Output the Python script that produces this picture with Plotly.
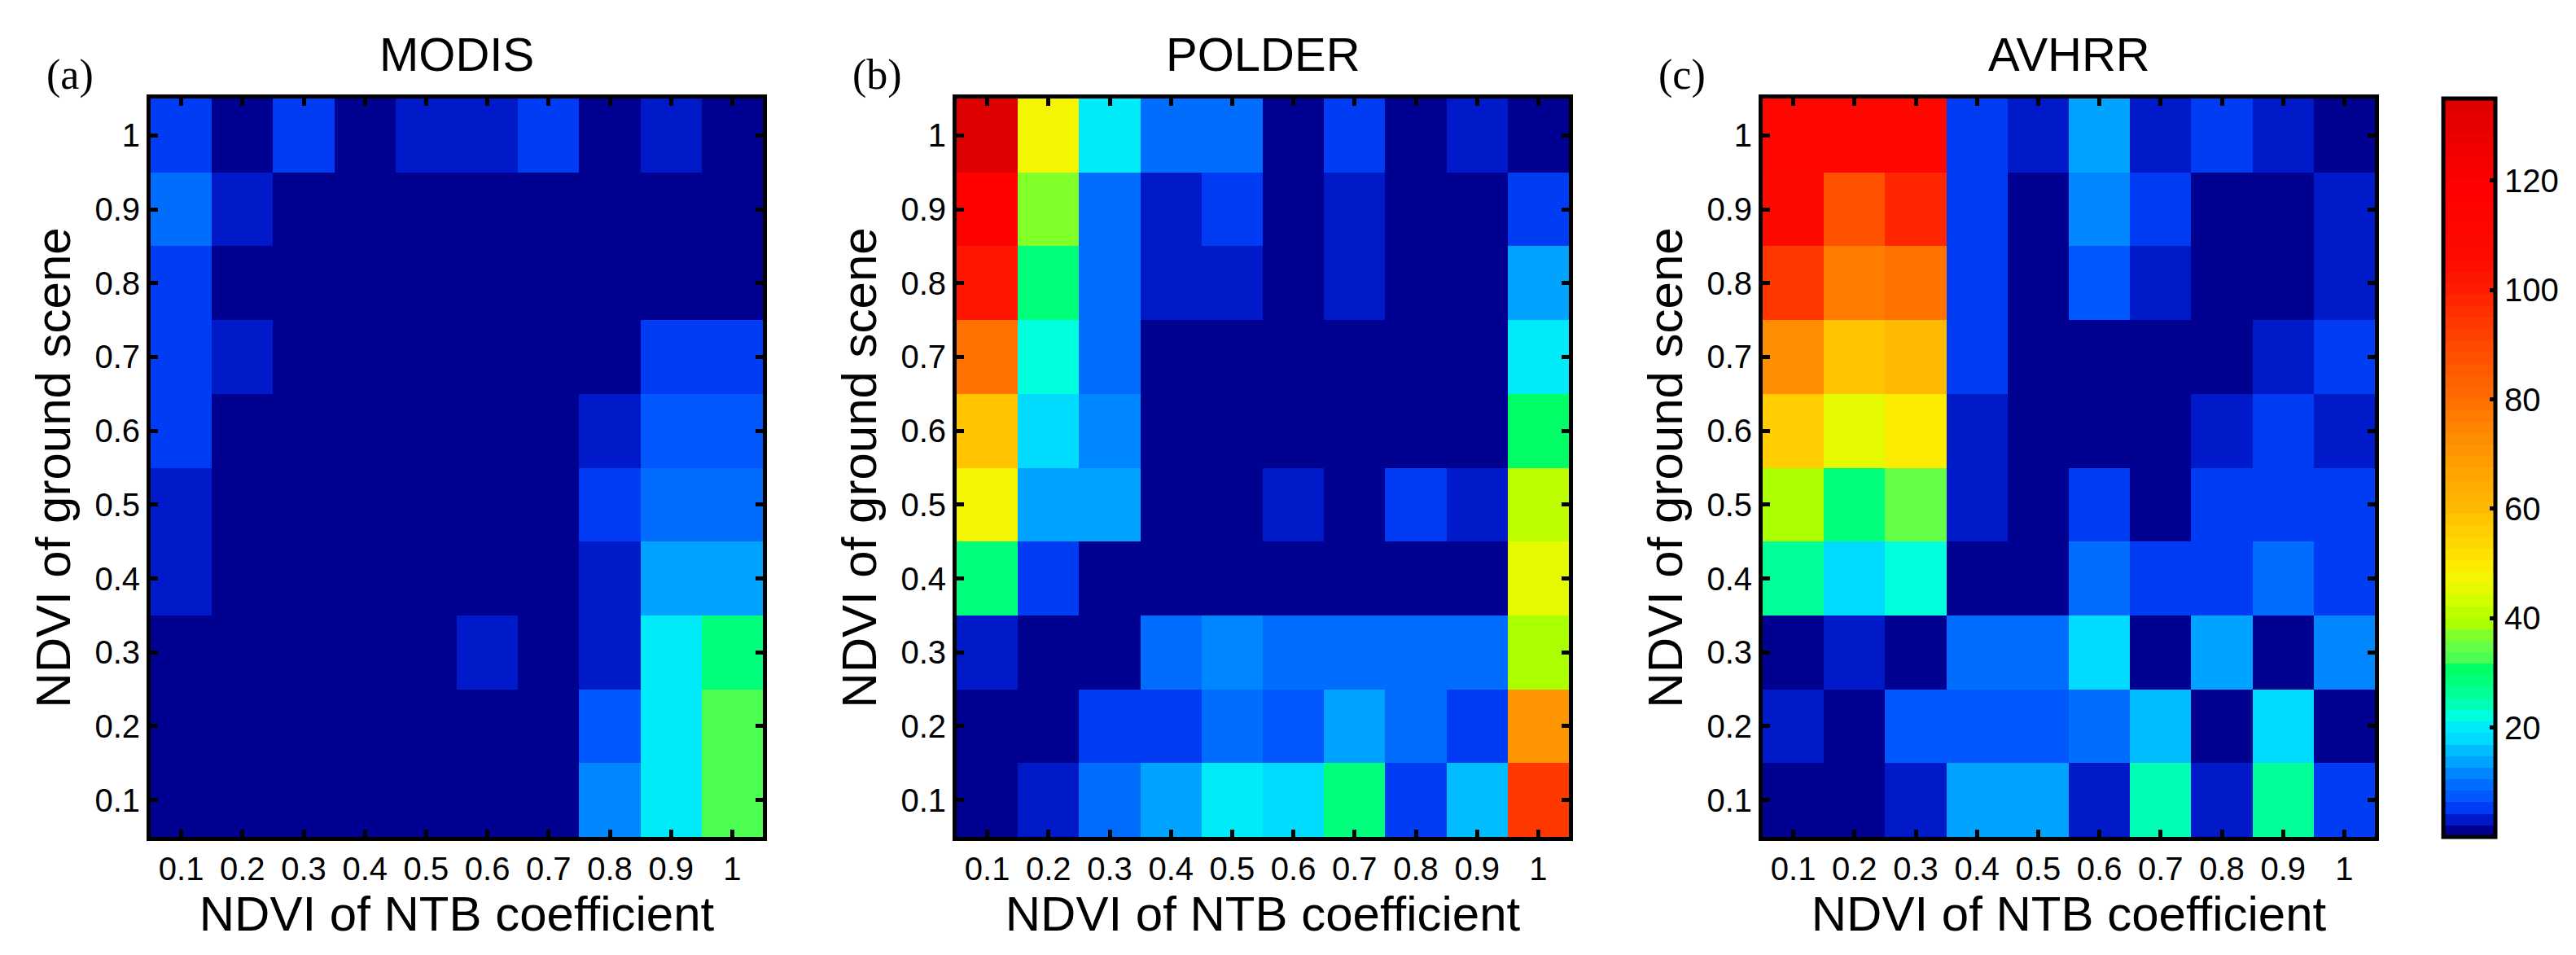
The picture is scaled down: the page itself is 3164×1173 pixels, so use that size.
import plotly.graph_objects as go

# axis categories
ntb_coef = [0.1, 0.2, 0.3, 0.4, 0.5, 0.6, 0.7, 0.8, 0.9, 1.0]
ground_ndvi = [1.0, 0.9, 0.8, 0.7, 0.6, 0.5, 0.4, 0.3, 0.2, 0.1]   # top row first
tick_labels = ["0.1", "0.2", "0.3", "0.4", "0.5", "0.6", "0.7", "0.8", "0.9", "1"]

# counts, one row per ground NDVI (1 at top)
modis = [
    [5.5, 0, 5.5, 0, 4, 4, 5.5, 0, 4, 0],
    [8.5, 4, 0, 0, 0, 0, 0, 0, 0, 0],
    [6, 0, 0, 0, 0, 0, 0, 0, 0, 0],
    [6, 3.5, 0, 0, 0, 0, 0, 0, 5.5, 5.5],
    [6, 0, 0, 0, 0, 0, 0, 3.5, 8, 8],
    [3.5, 0, 0, 0, 0, 0, 0, 6, 10, 10],
    [3.5, 0, 0, 0, 0, 0, 0, 3.5, 14, 14],
    [0, 0, 0, 0, 0, 3.5, 0, 3.5, 21, 28],
    [0, 0, 0, 0, 0, 0, 0, 7.5, 21, 33.5],
    [0, 0, 0, 0, 0, 0, 0, 12.5, 21, 33.5],
]
polder = [
    [134, 48, 20.5, 9.5, 9.5, 0, 5.5, 0, 3.5, 0],
    [118, 36, 10.5, 3.5, 5.5, 0, 3.5, 0, 0, 5.5],
    [103, 29.5, 10.5, 3.5, 3.5, 0, 3.5, 0, 0, 14],
    [79, 23, 8.5, 0, 0, 0, 0, 0, 0, 21],
    [59, 18, 12.5, 0, 0, 0, 0, 0, 0, 30.5],
    [48, 14, 14, 0, 0, 3.5, 0, 5.5, 3.5, 42],
    [28.5, 5.5, 0, 0, 0, 0, 0, 0, 0, 45],
    [3.5, 0, 0, 10.5, 12, 8.5, 8.5, 8.5, 8.5, 39.5],
    [0, 0, 5.5, 5.5, 9.5, 7.5, 14, 9.5, 6, 70],
    [0, 3.5, 10.5, 14, 20.5, 18, 27.5, 5.5, 16.5, 93],
]
avhrr = [
    [110, 110, 110, 6, 3.5, 14, 3.5, 6, 3.5, 0],
    [108, 88, 98, 6, 0, 11.5, 6, 0, 0, 3.5],
    [93, 76, 80, 6, 0, 7, 3.5, 0, 0, 3.5],
    [73, 57, 61, 6, 0, 0, 0, 0, 3.5, 6],
    [56, 45.5, 49, 3.5, 0, 0, 0, 3.5, 6, 3.5],
    [38, 29.5, 35.5, 3.5, 0, 6, 0, 6, 6, 6],
    [25.5, 18, 23, 0, 0, 8.5, 6, 6, 10.5, 6],
    [0, 3.5, 0, 8.5, 8.5, 18, 0, 14, 0, 12],
    [4, 0, 7, 7, 7, 8.5, 16, 0, 18, 0],
    [0, 0, 3.5, 13.5, 13.5, 3.5, 24, 3.5, 26, 6],
]

sensors = ["MODIS", "POLDER", "AVHRR"]
panel_tags = ["(a)", "(b)", "(c)"]
cbar_ticks = [20, 40, 60, 80, 100, 120]

# colour bar as it looks in the picture: value -> rgb
cmap_vals = [1.0, 3.1, 5.3, 7.5, 9.6, 11.6, 13.9, 15.9, 18.0, 20.1, 22.2, 24.3, 26.4,
             28.6, 30.9, 32.8, 34.8, 37.0, 39.0, 41.3, 43.3, 45.5, 47.8, 49.7, 53.7,
             60.1, 67.6, 75.8, 80.0, 90.7, 100.0, 105.7, 120.0, 134.5]
cmap_rgb = [(0, 0, 143), (0, 25, 200), (0, 60, 245), (0, 90, 255), (0, 110, 255),
            (0, 135, 255), (0, 165, 255), (0, 190, 255), (0, 220, 255), (0, 235, 250),
            (0, 255, 220), (0, 255, 180), (0, 255, 150), (0, 255, 120), (0, 255, 100),
            (80, 255, 80), (100, 255, 70), (130, 255, 40), (170, 255, 0), (190, 255, 0),
            (210, 255, 0), (230, 250, 0), (245, 245, 0), (255, 235, 0), (255, 215, 0),
            (255, 185, 0), (255, 160, 0), (255, 130, 0), (255, 110, 0), (255, 70, 0),
            (255, 30, 0), (255, 10, 0), (255, 0, 0), (220, 0, 0)]

ZMIN, ZMAX, NBANDS = 0, 135, 64


def colour_at(v):
    if v <= cmap_vals[0]:
        return cmap_rgb[0]
    for i in range(1, len(cmap_vals)):
        if v <= cmap_vals[i]:
            t = (v - cmap_vals[i - 1]) / (cmap_vals[i] - cmap_vals[i - 1])
            a, b = cmap_rgb[i - 1], cmap_rgb[i]
            return tuple(round(a[k] + t * (b[k] - a[k])) for k in range(3))
    return cmap_rgb[-1]


colorscale = []
for k in range(NBANDS):
    c = colour_at(ZMIN + (k + 0.5) * (ZMAX - ZMIN) / NBANDS)
    s = f"rgb({c[0]},{c[1]},{c[2]})"
    colorscale.append([k / NBANDS, s])
    colorscale.append([(k + 1) / NBANDS, s])

W, H = 3164, 1173
plot_left = [177, 1167, 2157]
plot_w = 752
top_px, bot_px = 113, 1020

fig = go.Figure()
tick_font = dict(family="Liberation Sans", size=40, color="black")
title_font = dict(family="Liberation Sans", size=60, color="black")

for i, data in enumerate([modis, polder, avhrr]):
    sfx = "" if i == 0 else str(i + 1)
    fig.add_trace(go.Heatmap(
        x=ntb_coef, y=ground_ndvi, z=data,
        coloraxis="coloraxis",
        xaxis="x" + sfx, yaxis="y" + sfx,
    ))
    dom_x = [plot_left[i] / W, (plot_left[i] + plot_w) / W]
    axis_common = dict(
        range=[0.05, 1.05], tickvals=ntb_coef, ticktext=tick_labels,
        ticks="inside", ticklen=9, tickwidth=5, tickcolor="black",
        showline=True, linewidth=5, linecolor="black", mirror="ticks",
        showgrid=False, zeroline=False, tickfont=tick_font,
    )
    fig.layout["xaxis" + sfx] = dict(
        axis_common, domain=dom_x, anchor="y" + sfx,
        title=dict(text="NDVI of NTB coefficient", font=title_font, standoff=10),
    )
    fig.layout["yaxis" + sfx] = dict(
        axis_common, domain=[1 - bot_px / H, 1 - top_px / H], anchor="x" + sfx,
        title=dict(text="NDVI of ground scene", font=title_font, standoff=12),
    )
    fig.add_annotation(
        x=(dom_x[0] + dom_x[1]) / 2, y=1 - 58 / H, xref="paper", yref="paper",
        text=sensors[i], showarrow=False, xanchor="center", yanchor="middle",
        font=dict(family="Liberation Sans", size=58, color="black"),
    )
    fig.add_annotation(
        x=(plot_left[i] - 130) / W, y=1 - 84 / H, xref="paper", yref="paper",
        text=panel_tags[i], showarrow=False, xanchor="left", yanchor="middle",
        font=dict(family="Liberation Serif", size=52, color="black"),
    )

fig.update_layout(
    width=W, height=H, autosize=False,
    margin=dict(l=0, r=0, t=0, b=0),
    paper_bgcolor="white", plot_bgcolor="white",
    showlegend=False,
    coloraxis=dict(
        cmin=ZMIN, cmax=ZMAX, colorscale=colorscale,
        colorbar=dict(
            x=2993 / W, xanchor="left", xpad=0, ypad=0,
            y=1 - top_px / H, yanchor="top",
            len=bot_px - top_px, lenmode="pixels",
            thickness=64, thicknessmode="pixels",
            outlinewidth=5, outlinecolor="black",
            tickvals=cbar_ticks, ticks="inside", ticklen=9, tickwidth=5,
            tickcolor="black", tickfont=dict(family="Liberation Sans", size=40, color="black"),
        ),
    ),
)

fig.write_html("out.html")
